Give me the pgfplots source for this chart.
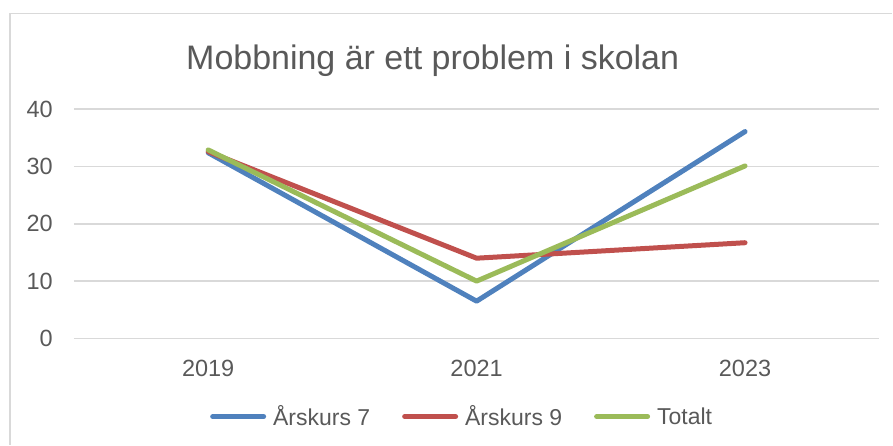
\documentclass[border=0pt]{standalone}
\usepackage{fontspec}
\setmainfont{Liberation Sans}
\usepackage{pgfplots}
\pgfplotsset{compat=1.18}
\definecolor{cblue}{HTML}{4F81BD}
\definecolor{cred}{HTML}{C0504D}
\definecolor{cgreen}{HTML}{9BBB59}
\definecolor{ctext}{HTML}{595959}
\definecolor{cgrid}{HTML}{D9D9D9}
\begin{document}
\begin{tikzpicture}[x=1pt,y=1pt]
\begin{axis}[
  width=806pt, height=229.4pt, scale only axis,
  xmin=-0.5, xmax=2.5, ymin=0, ymax=40,
  xtick={0,1,2}, xticklabels={2019,2021,2023},
  ytick={0,10,20,30,40},
  ymajorgrids, grid style={cgrid,line width=1.5pt},
  axis line style={draw=none},
  major tick length=0pt,
  /pgf/number format/assume math mode=true,
  tick label style={text=ctext,font=\fontsize{23.5}{28}\selectfont,inner sep=0pt},
  xticklabel style={anchor=base,yshift=-38pt},
  yticklabel style={anchor=east,xshift=-21pt},
  legend columns=3,
  legend style={at={(0.482,-0.341)},anchor=center,draw=none,fill=none,
    font=\fontsize{23}{28}\selectfont,text=ctext,inner sep=0pt,
    /tikz/every odd column/.append style={column sep=5pt},
    /tikz/every even column/.append style={column sep=30pt}},
  legend image code/.code={\draw[#1,line width=5pt,line cap=round] (0pt,0pt) -- (51pt,0pt);},
  every axis plot/.append style={line width=5pt,line cap=round,line join=round,mark=none},
]
\addplot[cblue] coordinates {(0,32.4) (1,6.5) (2,36.1)};
\addlegendentry{Årskurs 7}
\addplot[cred] coordinates {(0,32.6) (1,14.0) (2,16.7)};
\addlegendentry{Årskurs 9}
\addplot[cgreen] coordinates {(0,32.9) (1,10.0) (2,30.1)};
\addlegendentry{Totalt}
\end{axis}
\begin{scope}[shift={(-74,-106.3)}]
\draw[cgrid,line width=1.5pt] (10,0) -- (10,431.7) -- (893,431.7);
\node[anchor=base,text=ctext,font=\fontsize{34}{40}\selectfont,inner sep=0] at (433,375) {Mobbning är ett problem i skolan};
\end{scope}
\useasboundingbox (-74,-106.3) rectangle (819,338.7);
\end{tikzpicture}
\end{document}
